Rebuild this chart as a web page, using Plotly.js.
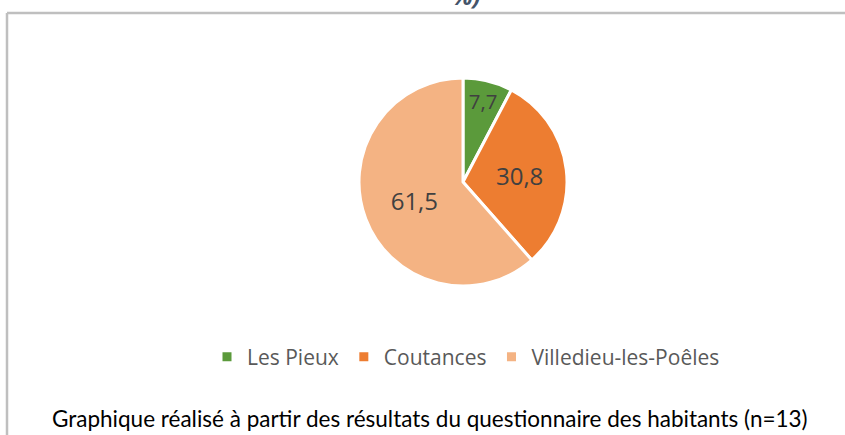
<!DOCTYPE html>
<html>
<head>
<meta charset="utf-8">
<script src="https://cdn.plot.ly/plotly-3.0.1.min.js"></script>
<style>html,body{margin:0;padding:0;background:#fff;}#chart{width:845px;height:435px;}</style>
</head>
<body>
<div id="chart"></div>
<script>
const categories = ["Les Pieux", "Coutances", "Villedieu-les-Poêles"];
const values = [7.7, 30.8, 61.5];
const colors = ["#5B9A3B", "#ED7D31", "#F4B383"];
const titleFragment = "%)";
const caption = "Graphique réalisé à partir des résultats du questionnaire des habitants (n=13)";

const W = 845, H = 435;
const px = x => x / W;
const py = y => 1 - y / H;

const trace = {
  type: "pie",
  labels: categories,
  values: values,
  sort: false,
  direction: "clockwise",
  rotation: 0,
  marker: {colors: colors, line: {color: "#ffffff", width: 3}},
  texttemplate: "%{value:.1f}",
  textposition: "inside",
  insidetextorientation: "horizontal",
  textfont: {family: "Open Sans, sans-serif", size: 24, color: "#404040"},
  hoverinfo: "label+value",
  domain: {x: [px(359), px(567)], y: [py(286), py(78)]}
};

const layout = {
  width: W, height: H,
  margin: {l: 0, r: 0, t: 0, b: 0},
  paper_bgcolor: "#ffffff",
  separators: ", ",
  showlegend: true,
  legend: {
    orientation: "h", x: px(466), xanchor: "center", y: py(357), yanchor: "middle",
    font: {family: "Open Sans, sans-serif", size: 21, color: "#595959"},
    itemwidth: 30
  },
  shapes: [
    {type: "line", xref: "paper", yref: "paper", x0: px(7), x1: 1, y0: py(13), y1: py(13), line: {color: "#BFBFBF", width: 2.5}},
    {type: "line", xref: "paper", yref: "paper", x0: px(7), x1: px(7), y0: py(13), y1: 0, line: {color: "#BFBFBF", width: 2.5}}
  ],
  annotations: [
    {text: "<b><i>" + titleFragment + "</i></b>", xref: "paper", yref: "paper", x: px(466), y: py(14), xanchor: "center", yanchor: "bottom", showarrow: false, font: {family: "Open Sans, sans-serif", size: 24, color: "#44546A"}},
    {text: caption, xref: "paper", yref: "paper", x: px(430), y: py(418), xanchor: "center", yanchor: "middle", showarrow: false, font: {family: "Lato, sans-serif", size: 22.5, color: "#000000"}}
  ]
};

Plotly.newPlot("chart", [trace], layout, {displayModeBar: false, staticPlot: true});
</script>
</body>
</html>
